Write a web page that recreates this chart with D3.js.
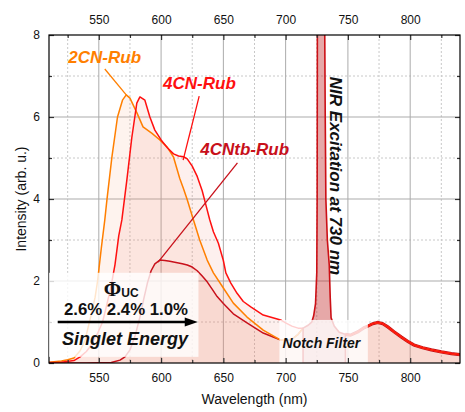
<!DOCTYPE html>
<html><head><meta charset="utf-8">
<script src="https://cdn.jsdelivr.net/npm/d3@7"></script>
<style>
body{margin:0;background:#fff;}
svg{display:block;font-family:"Liberation Sans",Arial,sans-serif;}
</style></head>
<body><svg id="c" width="465" height="412"></svg>
<script>
// ---------- data ----------
const majorX = [550, 600, 650, 700, 750, 800];
const minorX = [525, 575, 625, 675, 725, 775, 825];
const majorY = [0, 2, 4, 6, 8];
const minorY = [1, 3, 5, 7];

// 2CN-Rub emission (wavelength nm, intensity)
const wl2CN  = [510,520,525,530,535,539,544,547,549,552,554.8,556.5,560.5,565,569,572,575,580.6,585.5,592.7,599,604.8,610,615,618,621,626,631,637,642,650,658,669,682,696,700,705,710,714];
const int2CN = [0.02,0.05,0.08,0.12,0.3,0.56,1.2,1.6,2.0,2.8,3.49,3.98,5.02,6.0,6.41,6.54,6.46,6.1,5.76,5.6,5.44,5.27,5.02,4.5,4.25,3.98,3.49,3.0,2.51,2.2,1.83,1.46,1.12,0.8,0.56,0.55,0.58,0.7,0.85];
// 4CN-Rub emission
const wl4CN  = [510,520,530,535,540,543,549,553,556,560,563,566,568.5,572.5,576.5,580.5,583,587,591,595,600,605,610,614,618,621,625,629,633,636,639,642,646,650,652,656,661,666,672,682,696,700,705,710,714];
const int4CN = [0.01,0.02,0.06,0.15,0.28,0.4,0.72,1.0,1.37,1.9,2.4,3.1,3.49,4.46,5.5,6.34,6.49,6.41,6.0,5.68,5.44,5.25,5.1,5.05,5.03,4.98,4.8,4.55,4.2,3.85,3.5,3.2,2.92,2.5,2.2,1.95,1.7,1.5,1.37,1.17,1.05,0.98,0.9,0.85,0.85];
// 4CNtb-Rub emission
const wl4CNtb  = [510,540,560,567,571,575,579,583,586,589,592,595,599,603,607,612,617,621,625,629,633,637,641,645,650,658,669,682,696,700,705,710,714];
const int4CNtb = [0,0,0.01,0.07,0.15,0.32,0.65,1.12,1.55,1.95,2.25,2.42,2.51,2.5,2.48,2.45,2.42,2.39,2.34,2.25,2.12,1.98,1.8,1.62,1.45,1.2,0.98,0.73,0.56,0.55,0.58,0.7,0.85];
// shared part after the excitation line (all three samples coincide)
const wlTail  = [748,752,758,763,766,770,774,778,782,787,793,798,803,810,817,825,833,841];
const intTail = [0.7,0.68,0.76,0.86,0.9,0.96,0.99,0.96,0.88,0.76,0.63,0.53,0.44,0.37,0.32,0.27,0.23,0.2];
// NIR excitation line at 730 nm (clipped at top)
const wlExc  = [714,718,721,722.5,724,725,725.3,725.5,731.3,731.8,732.3,733.5,735,735.8,736.5,739,743,748];
const intExc = [0.85,0.92,1.0,1.15,1.45,2.2,4,8.6,8.6,6,4,3.0,2.4,1.6,1.1,0.9,0.75,0.7];

const seriesNames  = ["4CNtb-Rub", "2CN-Rub", "4CN-Rub"];
const seriesColors = ["#c8101a", "#ff7f00", "#ff1010"];
const phiValues = ["2.6%", "2.4%", "1.0%"];

// ---------- setup ----------
const svg = d3.select("#c");
const L = 49, R = 460, T = 35, B = 363;
const x = d3.scaleLinear().domain([510, 840]).range([L, R]);
const y = d3.scaleLinear().domain([0, 8]).range([B, T]);

const zip = (a, b) => a.map((v, i) => [v, b[i]]);
const gap = [null];
const tail = zip(wlTail, intTail);
const s2CN = zip(wl2CN, int2CN).concat(gap, tail);
const s4CN = zip(wl4CN, int4CN).concat(gap, tail);
const s4CNtb = zip(wl4CNtb, int4CNtb).concat(gap, tail);
const seriesData = [s4CNtb, s2CN, s4CN];
const exc = zip(wlExc, intExc);

svg.append("defs").append("clipPath").attr("id", "clip")
  .append("rect").attr("x", L).attr("y", T).attr("width", R - L).attr("height", B - T);

// grid
const grid = svg.append("g");
grid.selectAll(".mx").data(minorX).join("line")
  .attr("x1", d => x(d)).attr("x2", d => x(d)).attr("y1", T).attr("y2", B)
  .attr("stroke", "#c8c8c8").attr("stroke-dasharray", "2,2");
grid.selectAll(".my").data(minorY).join("line")
  .attr("y1", d => y(d)).attr("y2", d => y(d)).attr("x1", L).attr("x2", R)
  .attr("stroke", "#c8c8c8").attr("stroke-dasharray", "2,2");
grid.selectAll(".Mx").data(majorX).join("line")
  .attr("x1", d => x(d)).attr("x2", d => x(d)).attr("y1", T).attr("y2", B)
  .attr("stroke", "#ababab");
grid.selectAll(".My").data([2, 4, 6]).join("line")
  .attr("y1", d => y(d)).attr("y2", d => y(d)).attr("x1", L).attr("x2", R)
  .attr("stroke", "#ababab");

const plot = svg.append("g").attr("clip-path", "url(#clip)");
const area = d3.area().defined(d => d).x(d => x(d[0])).y0(y(0)).y1(d => y(d[1]));
const line = d3.line().defined(d => d).x(d => x(d[0])).y(d => y(d[1]));

const fillColors = ["#e67868", "#f5a070", "#ec8070"];
seriesData.forEach((s, i) => {
  plot.append("path").attr("d", area(s)).attr("fill", fillColors[i]).attr("fill-opacity", 0.12);
});
// thick shared tail (overlapping traces)
plot.append("path").attr("d", line(tail)).attr("fill", "none")
  .attr("stroke", "#c8101a").attr("stroke-width", 3.2);
seriesData.forEach((s, i) => {
  plot.append("path").attr("d", line(s)).attr("fill", "none")
    .attr("stroke", seriesColors[i]).attr("stroke-width", 1.5).attr("stroke-linejoin", "round");
});

// excitation line
const excPoly = [[wlExc[0], 0]].concat(exc, [[wlExc[wlExc.length - 1], 0]]);
plot.append("path").attr("d", line(excPoly) + "Z")
  .attr("fill", "#c43030").attr("fill-opacity", 0.42)
  .attr("stroke", "#cc1016").attr("stroke-width", 1.6);

// notch filter box
plot.append("rect").attr("x", x(695)).attr("width", x(766) - x(695))
  .attr("y", y(1.05)).attr("height", y(0) - y(1.05))
  .attr("fill", "#fff").attr("fill-opacity", 0.8);

// axes
function ax(gen, tr, vals, size, labels, pad) {
  const g = svg.append("g").attr("transform", tr)
    .call(gen.tickValues(vals).tickSizeInner(size).tickSizeOuter(0).tickPadding(pad)
      .tickFormat(labels ? d3.format("d") : () => ""));
  g.select(".domain").remove();
  g.selectAll(".tick line").attr("stroke", "#333").attr("stroke-width", 1.2);
  g.selectAll("text").attr("font-size", 12).attr("fill", "#111")
    .attr("font-family", "'Liberation Sans',Arial,sans-serif");
  return g;
}
ax(d3.axisBottom(x), `translate(0,${B})`, majorX, -5, true, 10);
ax(d3.axisBottom(x), `translate(0,${B})`, minorX, -3, false, 0);
ax(d3.axisTop(x), `translate(0,${T})`, majorX, -5, true, 11);
ax(d3.axisTop(x), `translate(0,${T})`, minorX, -3, false, 0);
ax(d3.axisLeft(y), `translate(${L},0)`, majorY, -5, true, 9);
ax(d3.axisLeft(y), `translate(${L},0)`, minorY, -3, false, 0);
ax(d3.axisRight(y), `translate(${R},0)`, majorY, -5, false, 0);
ax(d3.axisRight(y), `translate(${R},0)`, minorY, -3, false, 0);

svg.append("rect").attr("x", L).attr("y", T).attr("width", R - L).attr("height", B - T)
  .attr("fill", "none").attr("stroke", "#000").attr("stroke-width", 1.2);

// axis titles
svg.append("text").attr("x", (L + R) / 2).attr("y", 404).attr("text-anchor", "middle")
  .attr("font-size", 14).attr("fill", "#111").text("Wavelength (nm)");
svg.append("text").attr("transform", `translate(26,${(T + B) / 2}) rotate(-90)`)
  .attr("text-anchor", "middle").attr("font-size", 14).attr("fill", "#111").text("Intensity (arb. u.)");

// series labels with leader lines
const labelPos = [[631.5, 5.07], [525.5, 7.32], [601.6, 6.68]];   // [wl, intensity] of text start
const leaderFrom = [[661.3, 4.88], [554.8, 7.17], [630.6, 6.51]];
const leaderTo = [[597.6, 2.46], [572, 6.54], [617.7, 4.95]];
seriesNames.forEach((n, i) => {
  svg.append("line").attr("x1", x(leaderFrom[i][0])).attr("y1", y(leaderFrom[i][1]))
    .attr("x2", x(leaderTo[i][0])).attr("y2", y(leaderTo[i][1]))
    .attr("stroke", seriesColors[i]).attr("stroke-width", 1.3);
  svg.append("text").attr("x", x(labelPos[i][0])).attr("y", y(labelPos[i][1]))
    .attr("font-size", 17).attr("font-weight", "bold").attr("font-style", "italic")
    .attr("fill", seriesColors[i]).text(n);
});

// NIR excitation label
svg.append("text").attr("transform", `translate(${x(735.5)},${y(6.98)}) rotate(90)`)
  .attr("font-size", 17).attr("font-weight", "bold").attr("font-style", "italic")
  .attr("fill", "#111").text("NIR Excitation at 730 nm");

// notch filter label
svg.append("text").attr("x", x(697.5)).attr("y", y(0.37))
  .attr("font-size", 14).attr("font-weight", "bold").attr("font-style", "italic")
  .attr("fill", "#111").text("Notch Filter");

// quantum yield box
svg.append("rect").attr("x", x(510)).attr("width", x(630) - x(510))
  .attr("y", y(2.2)).attr("height", y(0.15) - y(2.2))
  .attr("fill", "#fff").attr("fill-opacity", 0.8);
const phi = svg.append("text").attr("x", x(568)).attr("y", y(1.63)).attr("text-anchor", "middle")
  .attr("fill", "#111").attr("font-weight", "bold");
phi.append("tspan").attr("font-family", "'Liberation Serif',serif").attr("font-size", 21).text("Φ");
phi.append("tspan").attr("font-size", 12).attr("dy", 1).text("UC");
svg.append("text").attr("x", x(522)).attr("y", y(1.17))
  .attr("font-size", 16.8).attr("font-weight", "bold").attr("fill", "#111")
  .text(phiValues.join(" "));
svg.append("line").attr("x1", x(517)).attr("x2", x(620)).attr("y1", y(1.0)).attr("y2", y(1.0))
  .attr("stroke", "#000").attr("stroke-width", 2.6);
svg.append("path").attr("d", `M${x(619)},${y(1.0) - 4.5}L${x(629.5)},${y(1.0)}L${x(619)},${y(1.0) + 4.5}Z`)
  .attr("fill", "#000");
svg.append("text").attr("x", x(520.5)).attr("y", y(0.44))
  .attr("font-size", 18).attr("font-weight", "bold").attr("font-style", "italic")
  .attr("fill", "#111").text("Singlet Energy");
</script></body></html>
